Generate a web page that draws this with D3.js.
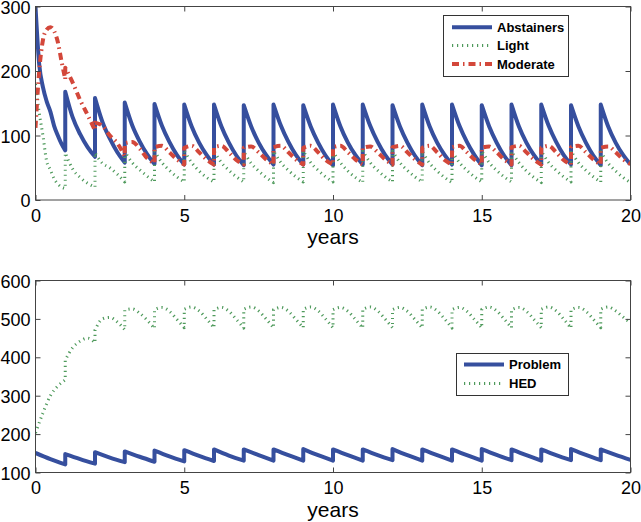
<!DOCTYPE html>
<html><head><meta charset="utf-8">
<script src="https://cdn.jsdelivr.net/npm/d3@7"></script>
<style>
body{margin:0;background:#fff;}
svg{display:block;font-family:"Liberation Sans",Arial,Helvetica,sans-serif;}
</style>
</head><body>
<svg id="c" width="641" height="522"></svg>
<script>
// ---------- data ----------
const xTicks = [0, 5, 10, 15, 20];
const yTicksTop = [0, 100, 200, 300];
const yTicksBottom = [100, 200, 300, 400, 500, 600];
const xLabel = "years";
const topNames = ["Abstainers", "Light", "Moderate"];
const bottomNames = ["Problem", "HED"];

// each row = one year; values evenly spaced from t=k to t=k+1 (value just before the yearly jump)
const abstainers = [
  [300,210,175,153,137,115,100,87,77],
  [168,128,102,82,67],
  [158,121,95,74,58],
  [151,116,91,71,56],
  [149,115,90,70,55],
  [148,114,89,70,55],
  [148,114,89,69,54],
  [147,114,89,70,55],
  [148,115,90,70,55],
  [147,114,89,69,54],
  [148,114,89,70,55],
  [148,115,90,70,55],
  [147,114,89,69,54],
  [148,114,89,70,55],
  [148,115,90,70,54],
  [147,114,89,69,54],
  [148,114,89,70,55],
  [148,115,90,70,55],
  [147,114,89,69,54],
  [148,114,89,70,55]
];
const light = [
  [180,135,100,60,47,33,25,20,18],
  [73,48,35,26,20],
  [73,57,50,40,28],
  [75,58,47,37,28],
  [76,58,46,36,28],
  [76,58,45,35,28],
  [76,58,46,36,28],
  [75,57,45,35,27],
  [76,58,46,36,28],
  [76,58,46,36,28],
  [75,58,45,35,27],
  [76,58,46,36,28],
  [76,58,46,36,28],
  [75,57,45,35,27],
  [76,58,46,36,28],
  [76,58,46,36,28],
  [75,58,45,35,27],
  [76,58,46,36,28],
  [76,58,46,36,28],
  [75,57,45,35,27]
];
const moderate = [
  [112,200,248,264,268,262,245,215,187],
  [205,182,155,132,108],
  [120,115,100,88,68],
  [88,90,80,65,57],
  [82,84,74,63,55],
  [81,84,74,63,55],
  [82,84,74,62,55],
  [81,83,74,63,55],
  [82,84,74,63,55],
  [81,84,74,62,55],
  [82,84,74,63,55],
  [81,83,74,63,55],
  [82,84,74,63,55],
  [81,84,74,62,55],
  [82,84,74,63,55],
  [81,83,74,63,55],
  [82,84,74,63,55],
  [81,84,74,62,55],
  [82,84,74,63,55],
  [81,83,74,63,56]
];
const problem = [
  [151,135,121],
  [148,135,123],
  [153,139,127],
  [155,141,128],
  [157,142,129],
  [158,143,130],
  [160,144,131],
  [160,145,131],
  [160,145,131],
  [161,145,131],
  [160,145,131],
  [160,145,132],
  [161,145,131],
  [160,145,131],
  [160,145,131],
  [161,146,132],
  [160,145,131],
  [160,145,132],
  [161,146,132],
  [160,146,133]
];
const hed = [
  [203,255,300,325,341],
  [393,425,442,450,438],
  [471,500,504,492,472],
  [523,526,515,497,475],
  [524,530,520,499,477],
  [525,531,521,500,477],
  [524,530,520,499,476],
  [525,531,521,500,477],
  [524,530,520,499,477],
  [525,531,521,500,477],
  [524,530,520,499,476],
  [525,531,521,500,477],
  [524,530,520,499,477],
  [525,531,521,500,476],
  [524,530,520,499,477],
  [525,531,521,500,477],
  [524,530,520,499,477],
  [525,531,521,500,476],
  [524,530,520,499,477],
  [525,531,521,505,490]
];

// ---------- styles ----------
const BLUE = "#364f9e", GREEN = "#4f9a5c", RED = "#d3473a";
const styles = {
  solid: {stroke: BLUE, width: 4, dash: null, cap: "butt"},
  dotted: {stroke: GREEN, width: 3, dash: "1.2,3.8", cap: "butt"},
  dashdot: {stroke: RED, width: 4, dash: "7,4,1.5,4", cap: "butt"}
};

const svg = d3.select("#c");
const xRange = [35.5, 630.5];

function toSegments(rows) {
  return rows.map((r, k) => r.map((v, i) => [k + i / (r.length - 1), v]));
}

function makePanel(opts) {
  const x = d3.scaleLinear().domain([0, 20]).range(xRange);
  const y = d3.scaleLinear().domain(opts.yDomain).range([opts.bottom, opts.top]);
  const g = svg.append("g");
  const clipId = "clip" + opts.id;
  svg.append("defs").append("clipPath").attr("id", clipId)
    .append("rect").attr("x", xRange[0]).attr("y", opts.top)
    .attr("width", xRange[1] - xRange[0]).attr("height", opts.bottom - opts.top);

  const line = d3.line().x(d => x(d[0])).y(d => y(d[1])).curve(d3.curveMonotoneX);
  const plot = g.append("g").attr("clip-path", `url(#${clipId})`);
  opts.series.forEach(s => {
    const segs = toSegments(s.rows);
    const d = segs.map((sg, i) => { const p = line(sg); return i ? "L" + p.slice(1) : p; }).join("");
    const st = styles[s.style];
    plot.append("path").attr("d", d).attr("fill", "none")
      .attr("stroke", st.stroke).attr("stroke-width", st.width)
      .attr("stroke-dasharray", st.dash).attr("stroke-linecap", st.cap)
      .attr("stroke-linejoin", "round");
  });

  // axes (inward ticks on all four sides)
  const fs = 18;
  const ax = g.append("g").attr("transform", `translate(0,${opts.bottom})`)
    .call(d3.axisBottom(x).tickValues(xTicks).tickSize(-5).tickPadding(9).tickFormat(d3.format("d")));
  const axTop = g.append("g").attr("transform", `translate(0,${opts.top})`)
    .call(d3.axisTop(x).tickValues(xTicks).tickSize(-5).tickFormat(""));
  const ay = g.append("g").attr("transform", `translate(${xRange[0]},0)`)
    .call(d3.axisLeft(y).tickValues(opts.yTicks).tickSize(-5).tickPadding(5).tickFormat(d3.format("d")));
  const ayR = g.append("g").attr("transform", `translate(${xRange[1]},0)`)
    .call(d3.axisRight(y).tickValues(opts.yTicks).tickSize(-5).tickFormat(""));
  [ax, axTop, ay, ayR].forEach(a => {
    a.select(".domain").remove();
    a.selectAll(".tick line").attr("stroke", "#444");
    a.selectAll("text").attr("font-size", fs).attr("fill", "#000")
      .attr("font-family", '"Liberation Sans",Arial,Helvetica,sans-serif');
  });
  ay.selectAll("text").attr("dy", "0.37em");
  g.append("rect").attr("x", xRange[0]).attr("y", opts.top)
    .attr("width", xRange[1] - xRange[0]).attr("height", opts.bottom - opts.top)
    .attr("fill", "none").attr("stroke", "#444").attr("stroke-width", 1);

  g.append("text").attr("x", (xRange[0] + xRange[1]) / 2).attr("y", opts.bottom + opts.labelOffset)
    .attr("text-anchor", "middle").attr("font-size", 21).attr("fill", "#000").text(xLabel);

  // legend
  const L = opts.legend;
  const lg = g.append("g");
  lg.append("rect").attr("x", L.x).attr("y", L.y).attr("width", L.w).attr("height", L.h)
    .attr("fill", "#fff").attr("stroke", "#333").attr("stroke-width", 1);
  opts.series.forEach((s, i) => {
    const cy = L.y + L.first + i * L.step;
    const st = styles[s.style];
    lg.append("line").attr("x1", L.lx1).attr("x2", L.lx2).attr("y1", cy).attr("y2", cy)
      .attr("stroke", st.stroke).attr("stroke-width", st.width)
      .attr("stroke-dasharray", st.dash).attr("stroke-linecap", st.cap);
    lg.append("text").attr("x", L.tx).attr("y", cy + 4.7).attr("font-size", 13)
      .attr("font-weight", "bold").attr("fill", "#000").text(s.name);
  });
}

makePanel({
  id: "top", top: 6.5, bottom: 200, yDomain: [0, 300], yTicks: yTicksTop, labelOffset: 44.3,
  series: [
    {name: topNames[0], rows: abstainers, style: "solid"},
    {name: topNames[1], rows: light, style: "dotted"},
    {name: topNames[2], rows: moderate, style: "dashdot"}
  ],
  legend: {x: 443.5, y: 15.5, w: 125, h: 61, first: 11.8, step: 18.3, lx1: 452, lx2: 492, tx: 497}
});
makePanel({
  id: "bottom", top: 280.5, bottom: 472.5, yDomain: [100, 600], yTicks: yTicksBottom, labelOffset: 44.3,
  series: [
    {name: bottomNames[0], rows: problem, style: "solid"},
    {name: bottomNames[1], rows: hed, style: "dotted"}
  ],
  legend: {x: 456.5, y: 353.5, w: 112, h: 42, first: 11, step: 19, lx1: 464, lx2: 504, tx: 509}
});
</script>
</body></html>
